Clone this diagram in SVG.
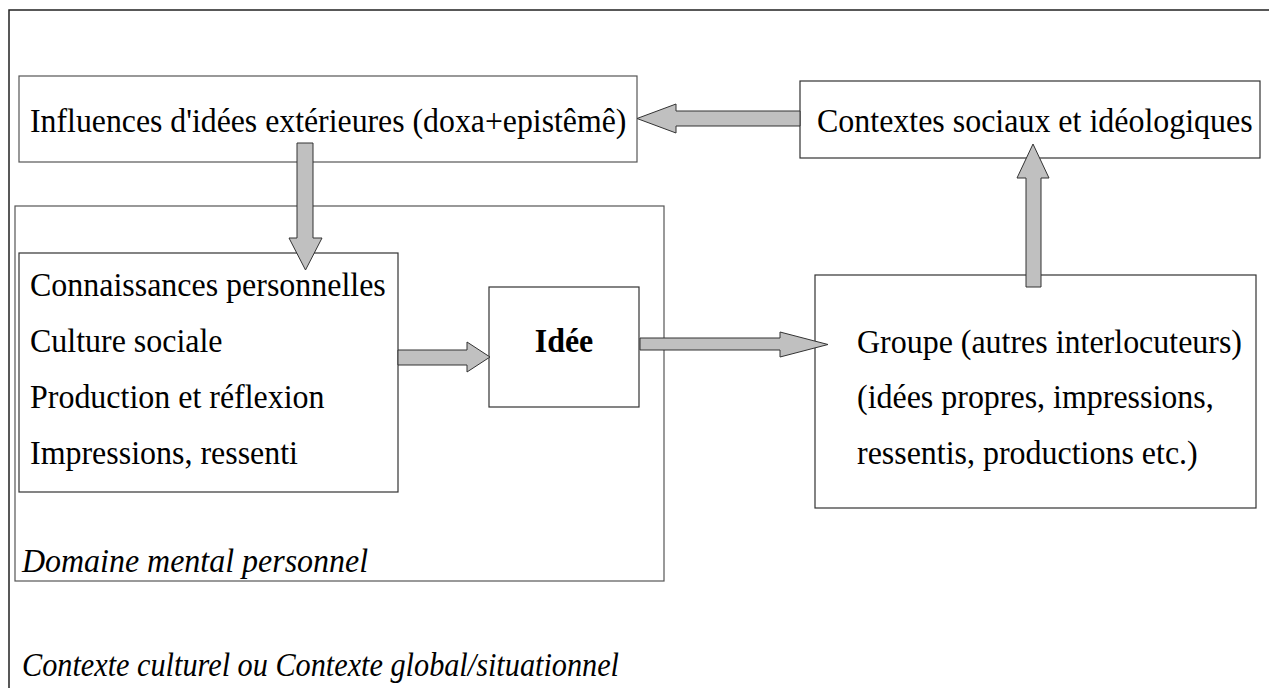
<svg xmlns="http://www.w3.org/2000/svg" width="1269" height="688" viewBox="0 0 1269 688">
<style>
.t{font-family:"Liberation Serif","Times New Roman",serif;font-size:34px;fill:#000}
.i{font-style:italic}
.b{font-weight:bold}
.box{fill:#fff;stroke:#333;stroke-width:1.2}
.gbox{fill:none;stroke:#555;stroke-width:1.2}
.arr{fill:#c0c0c0;stroke:#333;stroke-width:1}
</style>
<rect width="1269" height="688" fill="#fff"/>
<g id="contexte-global">
<path d="M9 688 V10 H1269" fill="none" stroke="#222" stroke-width="1.5"/>
<text class="t i" transform="translate(22 676) scale(0.89 1)">Contexte culturel ou Contexte global/situationnel</text>
</g>
<g id="domaine-mental">
<rect class="gbox" x="15" y="206" width="649" height="375"/>
<text class="t i" transform="translate(22 572) scale(0.94 1)">Domaine mental personnel</text>
</g>
<g id="influences">
<rect class="gbox" x="19" y="76" width="618" height="86" fill="#fff"/>
<text class="t" transform="translate(30 132) scale(0.935 1)">Influences d'idées extérieures (doxa+epistêmê)</text>
</g>
<g id="contextes">
<rect class="box" x="800" y="81" width="460" height="77"/>
<text class="t" transform="translate(817 132) scale(0.94 1)">Contextes sociaux et idéologiques</text>
</g>
<g id="connaissances">
<rect class="box" x="19" y="253" width="379" height="239"/>
<text class="t" transform="translate(30 296) scale(0.94 1)">Connaissances personnelles</text>
<text class="t" transform="translate(30 352) scale(0.94 1)">Culture sociale</text>
<text class="t" transform="translate(30 408) scale(0.94 1)">Production et réflexion</text>
<text class="t" transform="translate(30 464) scale(0.94 1)">Impressions, ressenti</text>
</g>
<g id="idee">
<rect class="box" x="489" y="287" width="150" height="120"/>
<text class="t b" transform="translate(564 352) scale(0.94 1)" text-anchor="middle">Idée</text>
</g>
<g id="groupe">
<rect class="box" x="815" y="275" width="441" height="233"/>
<text class="t" transform="translate(857 353) scale(0.94 1)">Groupe (autres interlocuteurs)</text>
<text class="t" transform="translate(857 408) scale(0.94 1)">(idées propres, impressions,</text>
<text class="t" transform="translate(857 464) scale(0.94 1)">ressentis, productions etc.)</text>
</g>
<g id="connectors">
<path class="arr" d="M800 111 H676 V104 L637 118.5 L676 133 V126 H800 Z"/>
<path class="arr" d="M297 143 H313 V238 H322 L305.5 270 L289 238 H297 Z"/>
<path class="arr" d="M398 350 H467 V342 L490 357 L467 372 V365 H398 Z"/>
<path class="arr" d="M640 338 H780 V332 L828 344.5 L780 357 V350 H640 Z"/>
<path class="arr" d="M1026 287 V178 H1017 L1033 144 L1049 178 H1041 V287 Z"/>
</g>
</svg>
